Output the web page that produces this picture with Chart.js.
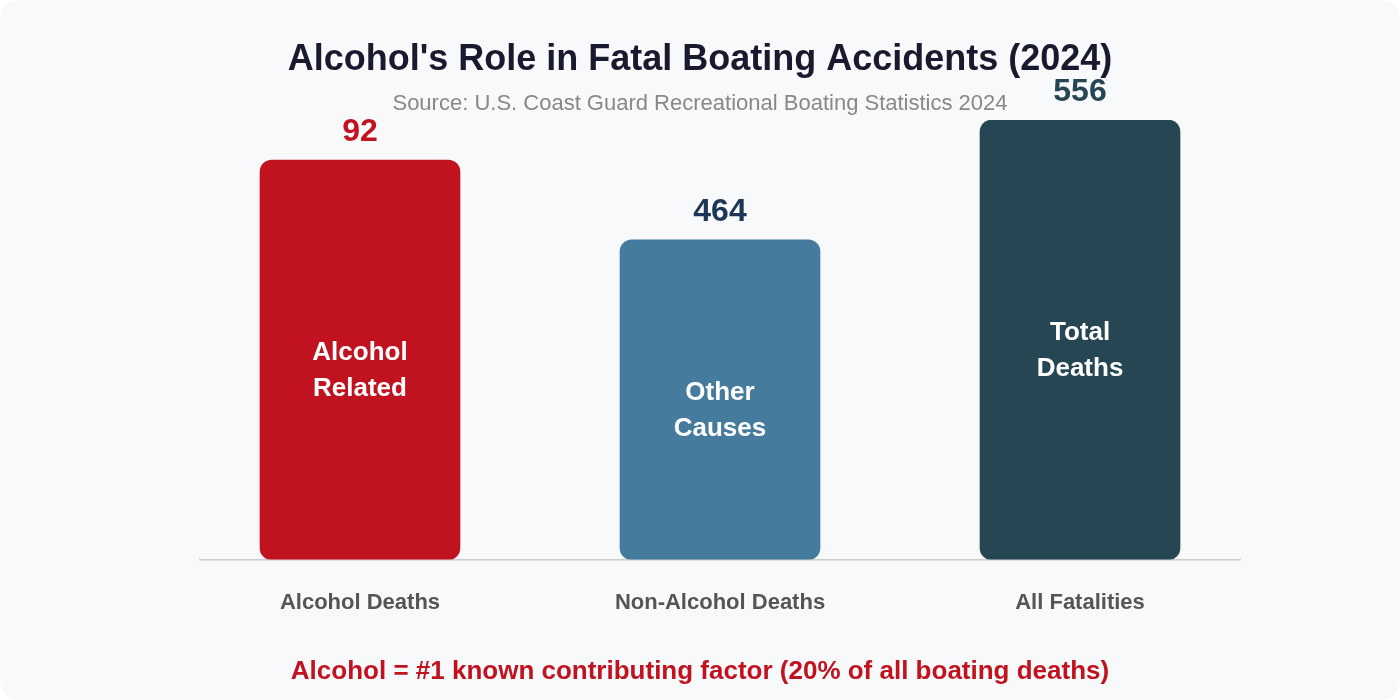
<!DOCTYPE html>
<html>
<head>
<meta charset="utf-8">
<title>Alcohol's Role in Fatal Boating Accidents (2024)</title>
<script src="https://cdn.jsdelivr.net/npm/chart.js@4.4.1/dist/chart.umd.min.js"></script>
<style>
  html, body { margin: 0; padding: 0; background: #ffffff; }
  .card {
    width: 1400px;
    height: 700px;
    background: #f8f9fa;
    border-radius: 20px;
    overflow: hidden;
  }
  canvas { display: block; }
</style>
</head>
<body>
<div class="card">
  <canvas id="boatingChart" width="1400" height="700"></canvas>
</div>
<script>
// data
const categories = ["Alcohol Deaths", "Non-Alcohol Deaths", "All Fatalities"];
const deathCounts = [92, 464, 556];
// drawn bar lengths (the bars are not to scale with the counts)
const barHeights = [100, 80, 110];
const barLabels = [["Alcohol", "Related"], ["Other", "Causes"], ["Total", "Deaths"]];
const barColors = ["#c1121f", "#457b9d", "#264653"];
const countColors = ["#c1121f", "#1d3557", "#264653"];

const FONT = "Helvetica, Arial, 'Liberation Sans', sans-serif";

// titles, counts above the bars, labels inside the bars, footer note
const textPlugin = {
  id: "textPlugin",
  afterDatasetsDraw(chart) {
    const ctx = chart.ctx;
    const meta = chart.getDatasetMeta(0);
    ctx.save();
    ctx.textAlign = "center";
    ctx.textBaseline = "alphabetic";
    meta.data.forEach((bar, i) => {
      ctx.font = "bold 32px " + FONT;
      ctx.fillStyle = countColors[i];
      ctx.fillText(String(deathCounts[i]), bar.x, bar.y - 19);

      const mid = (bar.y + bar.base) / 2;
      ctx.font = "bold 26px " + FONT;
      ctx.fillStyle = "#ffffff";
      barLabels[i].forEach((line, k) => {
        ctx.fillText(line, bar.x, mid + k * 36);
      });
    });
    ctx.restore();
  },
  afterDraw(chart) {
    const ctx = chart.ctx;
    const cx = chart.width / 2;
    ctx.save();
    ctx.textAlign = "center";
    ctx.textBaseline = "alphabetic";
    ctx.font = "bold 36px " + FONT;
    ctx.fillStyle = "#1a1a2e";
    ctx.fillText("Alcohol's Role in Fatal Boating Accidents (2024)", cx, 70);
    ctx.font = "22px " + FONT;
    ctx.fillStyle = "#888888";
    ctx.fillText("Source: U.S. Coast Guard Recreational Boating Statistics 2024", cx, 110);
    ctx.font = "bold 26px " + FONT;
    ctx.fillStyle = "#c1121f";
    ctx.fillText("Alcohol = #1 known contributing factor (20% of all boating deaths)", cx, 679);
    ctx.restore();
  }
};

new Chart(document.getElementById("boatingChart"), {
  type: "bar",
  data: {
    datasets: [
      {
        data: barHeights.map((v, i) => ({ x: i, y: v })),
        backgroundColor: barColors,
        hoverBackgroundColor: barColors,
        borderRadius: 12,
        borderSkipped: false,
        barThickness: 200,
      },
    ],
  },
  options: {
    responsive: false,
    animation: false,
    layout: {
      padding: { top: 120, left: 200, right: 160, bottom: 54 },
    },
    plugins: {
      legend: { display: false },
      tooltip: { enabled: false },
    },
    scales: {
      x: {
        type: "linear",
        offset: false,
        min: -0.4444,
        max: 2.4444,
        grid: { display: false, drawTicks: false },
        border: { display: true, color: "#cccccc", width: 1.5 },
        afterBuildTicks(scale) {
          scale.ticks = categories.map((_, i) => ({ value: i }));
        },
        ticks: {
          autoSkip: false,
          maxRotation: 0,
          padding: 30,
          color: "#555555",
          font: { family: FONT, size: 22, weight: "bold" },
          callback: (value) => categories[value],
        },
      },
      y: {
        display: false,
        min: 0,
        max: 110,
      },
    },
  },
  plugins: [textPlugin],
});
</script>
</body>
</html>
